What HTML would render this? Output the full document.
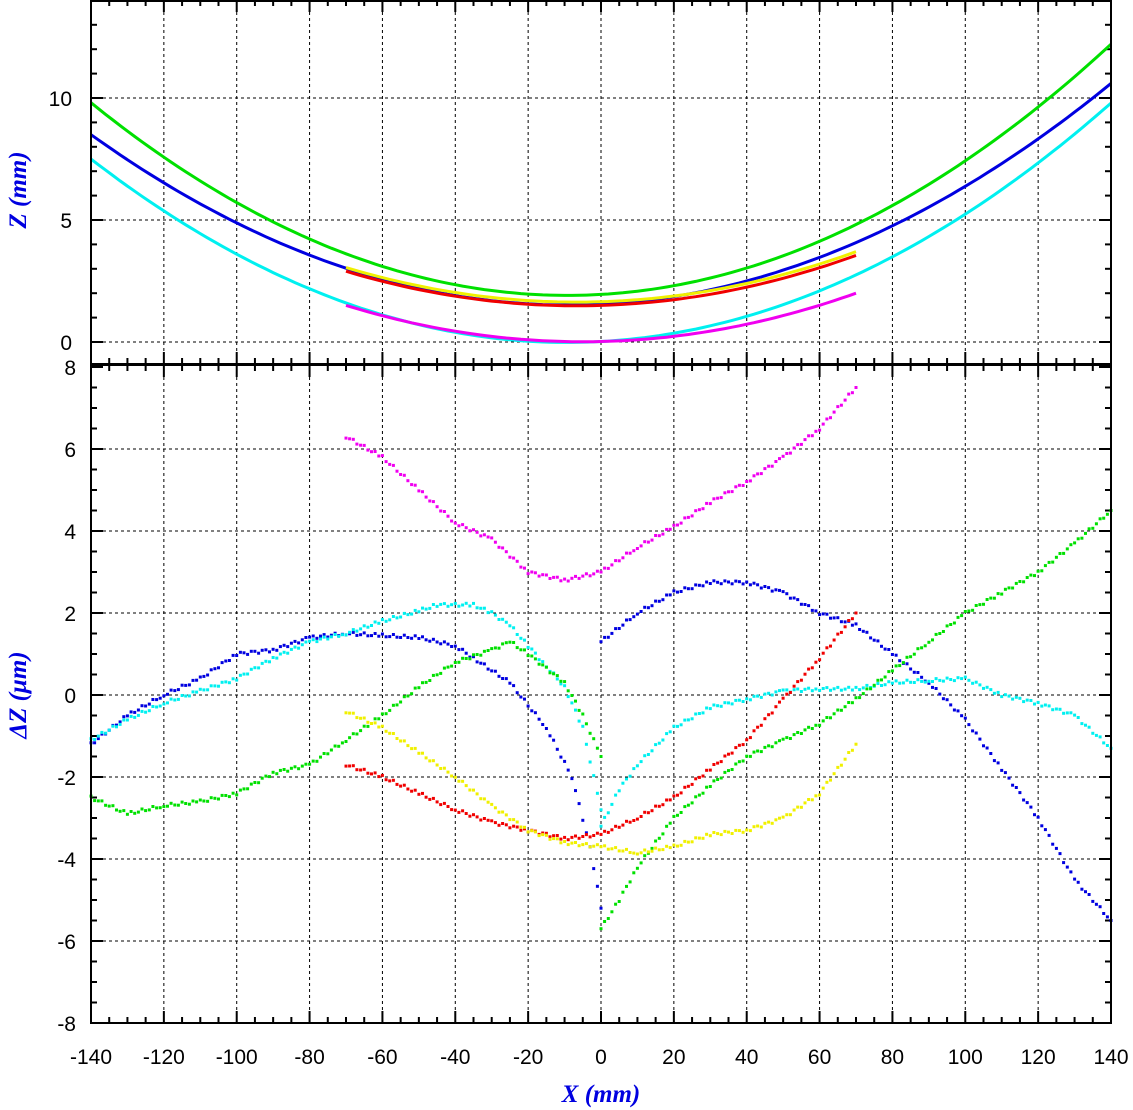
<!DOCTYPE html>
<html><head><meta charset="utf-8"><style>html,body{margin:0;padding:0;background:#fff}svg{display:block}</style></head>
<body>
<svg id="s" width="1133" height="1110" xmlns="http://www.w3.org/2000/svg"></svg>
<script>
const s=document.getElementById('s');
let h='';
const L=91,R=1111;
const X=x=>601+x*(R-L)/280;
// top panel
const T0=0,T1=364; const ZY=z=>342-z*24.4;
// bottom panel
const B0=365,B1=1023; const DY=d=>695-d*41;
function frame(y0,y1,ymin,ymax,ymaj,ymin2,fy){
 // grid
 for(let x=-120;x<=120;x+=20) h+=`<line x1="${X(x)}" y1="${y0}" x2="${X(x)}" y2="${y1}" stroke="#000" stroke-width="1" stroke-dasharray="3,3"/>`;
 for(let v=Math.ceil(ymin/ymaj)*ymaj;v<=ymax;v+=ymaj){const y=fy(v); if(y>y0+2&&y<y1-2) h+=`<line x1="${L}" y1="${y}" x2="${R}" y2="${y}" stroke="#000" stroke-width="1" stroke-dasharray="3,3"/>`;}
 // ticks x
 for(let x=-140;x<=140;x+=5){const len=x%20==0?12:6;const xx=X(x);
  h+=`<line x1="${xx}" y1="${y0}" x2="${xx}" y2="${y0+len}" stroke="#000" stroke-width="2"/><line x1="${xx}" y1="${y1}" x2="${xx}" y2="${y1-len}" stroke="#000" stroke-width="2"/>`;}
 for(let v=Math.ceil(ymin/ymin2)*ymin2;v<=ymax+1e-9;v+=ymin2){const y=fy(v);if(y<y0||y>y1)continue;const len=Math.abs(v/ymaj-Math.round(v/ymaj))<1e-6?12:6;
  h+=`<line x1="${L}" y1="${y}" x2="${L+len}" y2="${y}" stroke="#000" stroke-width="2"/><line x1="${R}" y1="${y}" x2="${R-len}" y2="${y}" stroke="#000" stroke-width="2"/>`;}
}
frame(T0,T1,-0.9,14,5,1,ZY);
frame(B0,B1,-8,8,2,0.5,DY);
function para(c,b,a,x0,x1,col){let p=[];for(let x=x0;x<=x1;x+=2){const y=ZY(c+b*x+a*x*x);if(y<T0)continue;p.push(X(x).toFixed(1)+','+y.toFixed(1));}
 h+=`<polyline points="${p.join(' ')}" fill="none" stroke="${col}" stroke-width="3"/>`;}
h+=`<svg x="${L}" y="${T0}" width="${R-L}" height="${T1-T0}" viewBox="${L} ${T0} ${R-L} ${T1-T0}" overflow="hidden">`;
para(1.95,0.00857,0.000462,-140,140,'#00e000');
para(1.55,0.0075,0.000408,-140,140,'#0000e0');
para(0.02,0.0082,0.00044,-140,140,'#00f0f0');
para(1.65,0.00464,0.000352,-70,70,'#f0f000');
para(1.5,0.00464,0.000352,-70,70,'#f00000');
para(0.02,0.00357,0.000353,-70,70,'#f000f0');
h+='</svg>';
function dots(pts,col){let p=[];for(let i=0;i<pts.length-1;i++){const[a,b]=pts[i],[c,d]=pts[i+1];const n=Math.max(2,Math.round(Math.abs(X(c)-X(a))/3.6));
 for(let k=0;k<n;k++){const t=k/n;const x=a+(c-a)*t,y=b+(d-b)*t+(Math.sin((x+k)*7.3)*0.04);p.push(`<rect x="${(X(x)-1.5).toFixed(1)}" y="${(DY(y)-1.5).toFixed(1)}" width="3" height="3"/>`);}}
 const l=pts[pts.length-1];p.push(`<rect x="${X(l[0])-1.5}" y="${DY(l[1])-1.5}" width="3" height="3"/>`);
 h+=`<g fill="${col}">${p.join('')}</g>`;}
dots([[-70,6.3],[-60,5.8],[-50,5.0],[-40,4.2],[-30,3.8],[-20,3.0],[-10,2.8],[0,3.0],[10,3.6],[20,4.1],[30,4.7],[40,5.2],[50,5.8],[60,6.5],[70,7.5]],'#f000f0');
dots([[-140,-1.2],[-130,-0.5],[-120,0],[-110,0.4],[-100,1.0],[-90,1.1],[-80,1.4],[-70,1.5],[-60,1.45],[-50,1.4],[-40,1.2],[-35,0.9],[-25,0.3],[-15,-0.8],[-8,-2],[-3,-3.7],[0,-5.2]],'#0000e0');
dots([[0,1.3],[10,2.0],[20,2.5],[30,2.75],[40,2.75],[50,2.5],[60,2.0],[70,1.7],[80,1.0],[90,0.3],[100,-0.6],[110,-1.8],[120,-3.0],[130,-4.5],[140,-5.5]],'#0000e0');
dots([[-140,-1.1],[-130,-0.6],[-120,-0.2],[-110,0.1],[-100,0.4],[-90,0.9],[-80,1.3],[-70,1.5],[-60,1.8],[-50,2.05],[-45,2.2],[-35,2.2],[-30,2.0],[-25,1.7],[-20,1.2],[-15,0.7],[-10,0.2],[-5,-0.8],[0,-2.8]],'#00f0f0');
dots([[0,-3.2],[5,-2.3],[10,-1.7],[20,-0.8],[30,-0.3],[40,-0.1],[50,0.1],[60,0.15],[70,0.15],[80,0.3],[90,0.35],[100,0.4],[110,0],[120,-0.2],[130,-0.5],[140,-1.3]],'#00f0f0');
dots([[-140,-2.5],[-130,-2.9],[-120,-2.7],[-110,-2.6],[-100,-2.4],[-90,-1.9],[-80,-1.7],[-70,-1.1],[-60,-0.5],[-50,0.2],[-40,0.8],[-30,1.1],[-25,1.3],[-20,1.0],[-10,0.3],[-5,-0.5],[0,-1.5]],'#00e000');
dots([[0,-5.7],[5,-5],[10,-4.2],[20,-3],[30,-2.2],[40,-1.5],[50,-1.1],[60,-0.7],[70,-0.1],[80,0.6],[90,1.3],[100,2.0],[110,2.5],[120,3.0],[130,3.7],[140,4.5]],'#00e000');
dots([[-70,-1.7],[-60,-2.0],[-50,-2.4],[-40,-2.8],[-30,-3.1],[-20,-3.3],[-10,-3.5],[0,-3.4],[10,-3.0],[20,-2.5],[30,-1.8],[40,-1.1],[50,-0.1],[60,0.9],[70,2.0]],'#f00000');
dots([[-70,-0.4],[-60,-0.8],[-50,-1.4],[-40,-2.0],[-30,-2.7],[-20,-3.3],[-10,-3.6],[0,-3.7],[10,-3.85],[20,-3.7],[30,-3.4],[40,-3.3],[50,-3.0],[60,-2.4],[70,-1.2]],'#f0f000');
// frames
h+=`<rect x="${L}" y="${T0+1}" width="${R-L}" height="${T1-T0-1}" fill="none" stroke="#000" stroke-width="2"/>`;
h+=`<rect x="${L}" y="${B0}" width="${R-L}" height="${B1-B0}" fill="none" stroke="#000" stroke-width="2"/>`;
// labels
const tf='font-family="Liberation Sans, sans-serif" font-size="21" fill="#000"';
for(let x=-140;x<=140;x+=20) h+=`<text x="${X(x)}" y="1064" text-anchor="middle" ${tf}>${x}</text>`;
for(let v of [0,5,10]) h+=`<text x="72" y="${ZY(v)+8}" text-anchor="end" ${tf}>${v}</text>`;
for(let v=-8;v<=8;v+=2) h+=`<text x="76" y="${DY(v)+8}" text-anchor="end" ${tf}>${v}</text>`;
const af='font-family="Liberation Serif, serif" font-style="italic" font-weight="bold" font-size="25" fill="#0000e0"';
h+=`<text x="601" y="1102" text-anchor="middle" ${af}>X (mm)</text>`;
h+=`<text transform="translate(26,190) rotate(-90)" text-anchor="middle" ${af}>Z (mm)</text>`;
h+=`<text transform="translate(26,695) rotate(-90)" text-anchor="middle" ${af}>ΔZ (μm)</text>`;
s.innerHTML=h;
</script>
</body></html>
